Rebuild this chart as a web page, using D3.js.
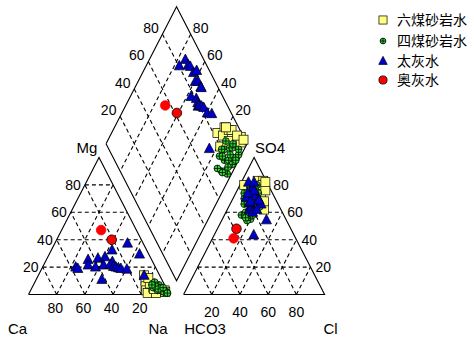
<!DOCTYPE html>
<html>
<head>
<meta charset="utf-8">
<script src="https://cdn.jsdelivr.net/npm/d3@7"></script>
<style>
  body { margin: 0; background: #fff; }
  svg { display: block; }
  text { font-family: "Liberation Sans", Arial, sans-serif; font-size: 15px; fill: #000; }
  text.tick { font-size: 14px; }
  .legend text { font-family: "Noto Sans CJK SC", sans-serif; font-size: 14px; }
</style>
</head>
<body>
<div id="chart"></div>
<script>
// Piper diagram, samples as [Mg%, Na%, SO4%, Cl%] (Ca and HCO3 are the remainder)
const groupNames = ["六煤砂岩水", "四煤砂岩水", "太灰水", "奥灰水"];
const tickValues = [20, 40, 60, 80];

const liuMei = [
    [14, 75, 80, 3], [10, 78, 79, 11], [6, 80, 72, 14], [3, 82, 74, 18],
    [1, 84, 83, 11], [5, 86, 62, 26], [2, 93, 83, 15], [3, 95, 80, 16],
    [1, 90, 76, 20], [2, 96, 82, 17], [8, 82, 70, 10], [4, 87, 66, 19],
    [12, 79, 68, 23]
];
const siMei = [
    [2, 97, 55, 20], [4, 92, 54, 18], [6, 88, 58, 12], [3, 90, 62, 16],
    [5, 86, 72, 10], [2, 95, 70, 15], [1, 98, 78, 12], [8, 84, 74, 6],
    [4, 93, 66, 15], [7, 89, 76, 10], [2, 96, 80, 12], [3, 94, 60, 14],
    [5, 91, 72, 16], [1, 97, 64, 18], [9, 85, 66, 10], [3, 92, 68, 16],
    [6, 87, 70, 8], [2, 95, 58, 20], [4, 90, 74, 16], [1, 98, 64, 22],
    [7, 84, 78, 8], [5, 93, 56, 16]
];
const taiHui = [
    [20, 23.5, 65, 15.4], [19, 25.5, 82, 5], [25.5, 29.5, 75, 12], [21.5, 31.5, 78, 10],
    [26.5, 36, 70, 18], [20, 37.5, 82, 9], [27.5, 40.5, 72, 14], [21.5, 42.5, 66, 22],
    [32.5, 43, 62, 15.5], [11, 46.5, 76, 12], [24, 47.5, 64, 16.5], [22, 47, 69, 19],
    [20.5, 50, 67, 13], [37.5, 51.5, 60, 19], [20, 52, 71, 9], [19.5, 54, 68, 13.5],
    [19, 56, 74, 8.5], [18.5, 60.5, 62, 21], [29.5, 64, 54.5, 31.5], [14, 75, 43.5, 28]
];
const aoHui = [
    [47, 28, 41, 15], [40, 39, 48, 13.5]
];

const width = 474;
const height = 337;

const svg = d3.select('#chart')
    .append('svg')
    .attr('width', width)
    .attr('height', height)
    .attr('viewBox', [0, 0, width, height]);

// one unit = triangle side horizontally, triangle height vertically
const x = d3.scaleLinear().domain([0, 2.1]).range([28.5, 324.6]);
const y = d3.scaleLinear().domain([0, 2.1]).range([294.5, 6.8]);

// projections (fractions)
const cat = (m, a) => [a + m / 2, m];
const ani = (s, c) => [1.1 + c + s / 2, s];
const dia = (a, h) => [(2.1 - h + a) / 2, 2.1 - h - a];

const line = d3.line().x(d => x(d[0])).y(d => y(d[1]));

// dashed grid
const grid = [];
[0.2, 0.4, 0.6, 0.8].forEach(v => {
    grid.push([cat(v, 0), cat(v, 1 - v)]);
    grid.push([cat(0, v), cat(1 - v, v)]);
    grid.push([cat(0, 1 - v), cat(1 - v, 0)]);
    grid.push([ani(v, 0), ani(v, 1 - v)]);
    grid.push([ani(0, v), ani(1 - v, v)]);
    grid.push([ani(0, 1 - v), ani(1 - v, 0)]);
    grid.push([dia(v, 0), dia(v, 1)]);
    grid.push([dia(0, v), dia(1, v)]);
});

svg.append('g')
    .attr('stroke', '#000')
    .attr('stroke-width', 1.1)
    .attr('stroke-dasharray', '4,3')
    .attr('fill', 'none')
    .selectAll('path')
    .data(grid)
    .join('path')
    .attr('d', line);

// outlines
const shapes = [
    [cat(0, 0), cat(0, 1), cat(1, 0), cat(0, 0)],
    [ani(0, 0), ani(0, 1), ani(1, 0), ani(0, 0)],
    [dia(0, 1), dia(0, 0), dia(1, 0), dia(1, 1), dia(0, 1)]
];
svg.append('g')
    .attr('stroke', '#000')
    .attr('stroke-width', 1.1)
    .attr('fill', 'none')
    .selectAll('path')
    .data(shapes)
    .join('path')
    .attr('d', line);

// tick labels
const labels = svg.append('g');
const tick = (px, py, anchor, v) => labels.append('text').attr('class', 'tick')
    .attr('x', px).attr('y', py).attr('text-anchor', anchor).text(v);
tickValues.forEach(v => {
    const f = v / 100;
    tick(x(1 - f) - 1.5, 312.5, 'middle', v);
    tick(x(1.1 + f), 316.5, 'middle', v);
    const pl = cat(f, 0);
    tick(x(pl[0]) - 4, y(pl[1]) + 5, 'end', v);
    const pr = ani(f, 1 - f);
    tick(x(pr[0]) + 5, y(pr[1]) + 5, 'start', v);
    const dl = dia(0, 1 - f);
    tick(x(dl[0]) - 11.5, y(dl[1]) - 1.5, 'middle', v);
    const dr = dia(1 - f, 0);
    tick(x(dr[0]) + 10, y(dr[1]) - 1.5, 'middle', v);
});

// ion names
const apexL = cat(1, 0), apexR = ani(1, 0);
labels.append('text').attr('x', x(apexL[0]) - 12).attr('y', y(apexL[1]) - 4.5)
    .attr('text-anchor', 'middle').text('Mg');
labels.append('text').attr('x', x(apexR[0]) + 1).attr('y', y(apexR[1]) - 4.5)
    .attr('text-anchor', 'start').text('SO4');
labels.append('text').attr('x', x(0) - 11).attr('y', 334).attr('text-anchor', 'middle').text('Ca');
labels.append('text').attr('x', x(1) - 11.5).attr('y', 334).attr('text-anchor', 'middle').text('Na');
labels.append('text').attr('x', x(1.1) + 21.5).attr('y', 334).attr('text-anchor', 'middle').text('HCO3');
labels.append('text').attr('x', x(2.1) + 6).attr('y', 334).attr('text-anchor', 'middle').text('Cl');

// markers
const triPath = s => `M0,${-s * 0.55}L${s / 2},${s * 0.4}L${-s / 2},${s * 0.4}Z`;

function drawMarker(g, kind, scale, edge) {
    if (kind === 0) {
        const s = 9 * scale;
        g.append('rect').attr('x', -s / 2).attr('y', -s / 2).attr('width', s).attr('height', s)
            .attr('fill', '#ffff80').attr('stroke', '#000').attr('stroke-width', 0.7);
    } else if (kind === 1) {
        const r = 3.4 * scale;
        g.append('circle').attr('r', r).attr('fill', '#33dd33')
            .attr('stroke', '#000').attr('stroke-width', 0.8);
        g.append('path').attr('d', `M${-r},0H${r}M0,${-r}V${r}`)
            .attr('stroke', '#000').attr('stroke-width', 0.8);
    } else if (kind === 2) {
        g.append('path').attr('d', triPath(10 * scale))
            .attr('fill', '#0000cc').attr('stroke', '#000').attr('stroke-width', 0.7);
    } else {
        g.append('circle').attr('r', 4.8 * scale).attr('fill', '#ff0000')
            .attr('stroke', edge ? '#000' : '#ff0000').attr('stroke-width', 0.8);
    }
}

const groups = [liuMei, siMei, taiHui, aoHui];
groups.forEach((rows, k) => {
    const g = svg.append('g');
    rows.forEach((r, i) => {
        const m = r[0] / 100, a = r[1] / 100, s = r[2] / 100, c = r[3] / 100;
        const h = 1 - s - c;
        [cat(m, a), ani(s, c), dia(a, h)].forEach(p => {
            const mk = g.append('g').attr('transform', `translate(${x(p[0])},${y(p[1])})`);
            drawMarker(mk, k, 1, i > 0);
        });
    });
});

// legend
const legend = svg.append('g').attr('class', 'legend');
const legendY = [20, 41, 61, 80];
groupNames.forEach((name, k) => {
    const mk = legend.append('g').attr('transform', `translate(383,${legendY[k]})`);
    drawMarker(mk, k, k === 0 ? 0.9 : 0.85, true);
    legend.append('text').attr('x', 397).attr('y', legendY[k] + 5).text(name);
});
</script>
</body>
</html>
